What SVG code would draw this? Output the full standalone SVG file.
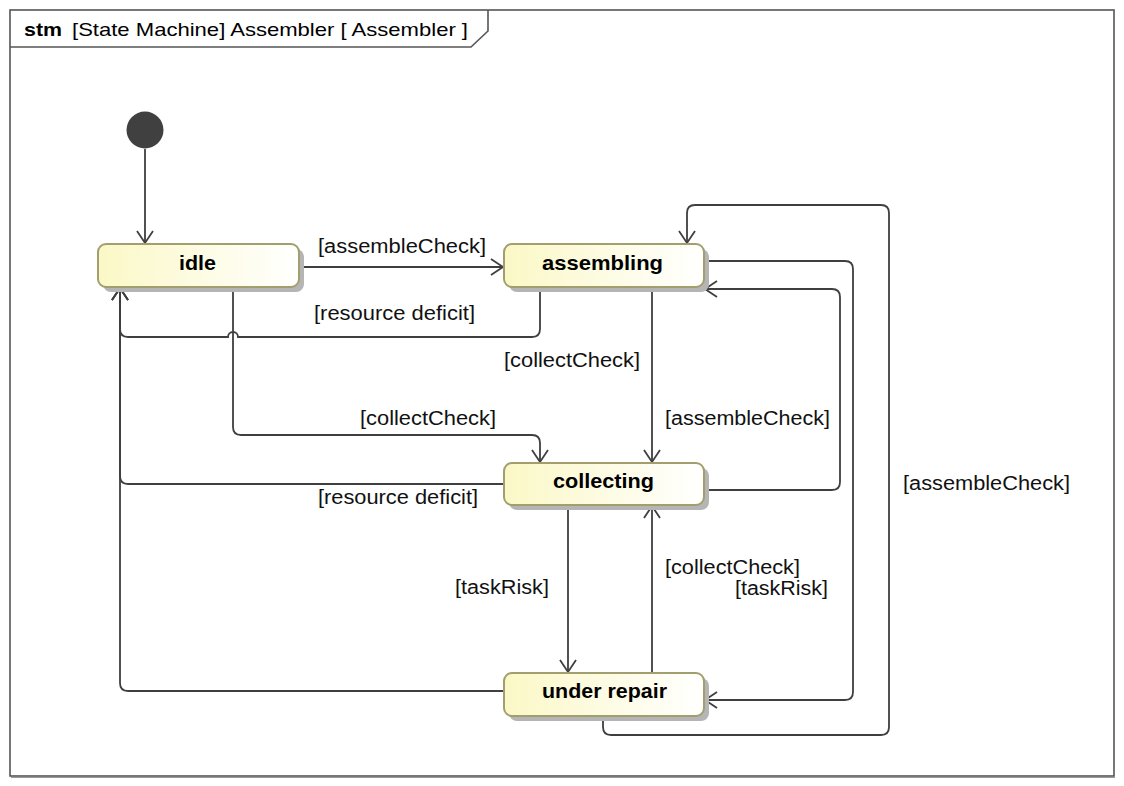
<svg xmlns="http://www.w3.org/2000/svg" width="1124" height="786" viewBox="0 0 1124 786">
<style>
.frame{fill:none;stroke:#555;stroke-width:1.6}
.title{font-family:"Liberation Sans",Arial,sans-serif;font-size:19px;fill:#000}
.lbl{font-family:"Liberation Sans",Arial,sans-serif;font-size:20px;fill:#111}
.name{font-family:"Liberation Sans",Arial,sans-serif;font-size:21px;font-weight:bold;fill:#000}
.state{fill:url(#sg);stroke:#a29e6e;stroke-width:2}
.shadow{fill:#b5b5b5}
.edge{fill:none;stroke:#3f3f3f;stroke-width:1.8}
</style>
<defs>
<linearGradient id="sg" x1="0" y1="0" x2="1" y2="0">
<stop offset="0" stop-color="#fbf8c6"/>
<stop offset="1" stop-color="#ffffff"/>
</linearGradient>
<marker id="arr" markerUnits="userSpaceOnUse" markerWidth="16" markerHeight="18" refX="12" refY="8" orient="auto" overflow="visible">
<path d="M0,0 L12,8 L0,16" fill="none" stroke="#3f3f3f" stroke-width="1.8"/>
</marker>
</defs>
<rect x="0" y="0" width="1124" height="786" fill="#ffffff"/>
<g id="frame">
<rect x="10" y="10" width="1104" height="766" class="frame"/>
<line x1="11" y1="777.5" x2="1115" y2="777.5" stroke="#999" stroke-width="1"/>
<path d="M10,47 L471,47 L488,31 L488,10" class="frame"/>
<text x="24" y="36" class="title" font-weight="bold" textLength="38" lengthAdjust="spacingAndGlyphs">stm</text>
<text x="72" y="36" class="title" textLength="396" lengthAdjust="spacingAndGlyphs">[State Machine] Assembler [ Assembler ]</text>
</g>
<g id="connectors">
<path class="edge" d="M145,149 L145,243" marker-end="url(#arr)"/>
<path class="edge" d="M299,267 L503,267" marker-end="url(#arr)"/>
<path class="edge" d="M540,287 L540,329 Q540,337 532,337 L238,337 A5,5 0 0 0 228,337 L128,337 Q120,337 120,329 L120,288" marker-end="url(#arr)"/>
<path class="edge" d="M233,287 L233,427 Q233,435 241,435 L532,435 Q540,435 540,443 L540,462" marker-end="url(#arr)"/>
<path class="edge" d="M504,484 L128,484 Q120,484 120,476 L120,288" marker-end="url(#arr)"/>
<path class="edge" d="M652,287 L652,462" marker-end="url(#arr)"/>
<path class="edge" d="M704,490 L832,490 Q840,490 840,482 L840,297 Q840,289 832,289 L705,289" marker-end="url(#arr)"/>
<path class="edge" d="M704,261 L845,261 Q853,261 853,269 L853,692 Q853,700 845,700 L705,700" marker-end="url(#arr)"/>
<path class="edge" d="M603,716 L603,727 Q603,735 611,735 L881,735 Q889,735 889,727 L889,213 Q889,205 881,205 L695,205 Q687,205 687,213 L687,243" marker-end="url(#arr)"/>
<path class="edge" d="M568,505 L568,672" marker-end="url(#arr)"/>
<path class="edge" d="M652,673 L652,506" marker-end="url(#arr)"/>
<path class="edge" d="M504,691 L128,691 Q120,691 120,683 L120,288" marker-end="url(#arr)"/>
<text x="318" y="253" class="lbl" textLength="168" lengthAdjust="spacingAndGlyphs">[assembleCheck]</text>
<text x="314" y="320" class="lbl" textLength="161" lengthAdjust="spacingAndGlyphs">[resource deficit]</text>
<text x="504" y="367" class="lbl" textLength="136" lengthAdjust="spacingAndGlyphs">[collectCheck]</text>
<text x="360" y="425" class="lbl" textLength="136" lengthAdjust="spacingAndGlyphs">[collectCheck]</text>
<text x="665" y="425" class="lbl" textLength="165" lengthAdjust="spacingAndGlyphs">[assembleCheck]</text>
<text x="318" y="504" class="lbl" textLength="160" lengthAdjust="spacingAndGlyphs">[resource deficit]</text>
<text x="455" y="594" class="lbl" textLength="94" lengthAdjust="spacingAndGlyphs">[taskRisk]</text>
<text x="665" y="574" class="lbl" textLength="135" lengthAdjust="spacingAndGlyphs">[collectCheck]</text>
<text x="735" y="595" class="lbl" textLength="93" lengthAdjust="spacingAndGlyphs">[taskRisk]</text>
<text x="903" y="490" class="lbl" textLength="167" lengthAdjust="spacingAndGlyphs">[assembleCheck]</text>
</g>
<g id="initial">
<circle cx="145" cy="130" r="18.5" fill="#404040"/>
</g>
<g id="idle">
<rect x="103" y="249" width="201" height="43" rx="8" class="shadow"/>
<rect x="98" y="244" width="201" height="43" rx="8" class="state"/>
<text x="179" y="270" class="name" textLength="37" lengthAdjust="spacingAndGlyphs">idle</text>
</g>
<g id="assembling">
<rect x="509" y="249" width="200" height="43" rx="8" class="shadow"/>
<rect x="504" y="244" width="200" height="43" rx="8" class="state"/>
<text x="542" y="270" class="name" textLength="121" lengthAdjust="spacingAndGlyphs">assembling</text>
</g>
<g id="collecting">
<rect x="509" y="468" width="200" height="42" rx="8" class="shadow"/>
<rect x="504" y="463" width="200" height="42" rx="8" class="state"/>
<text x="553" y="488" class="name" textLength="101" lengthAdjust="spacingAndGlyphs">collecting</text>
</g>
<g id="under_repair">
<rect x="509" y="678" width="200" height="43" rx="8" class="shadow"/>
<rect x="504" y="673" width="200" height="43" rx="8" class="state"/>
<text x="542" y="698" class="name" textLength="125" lengthAdjust="spacingAndGlyphs">under repair</text>
</g>
</svg>
